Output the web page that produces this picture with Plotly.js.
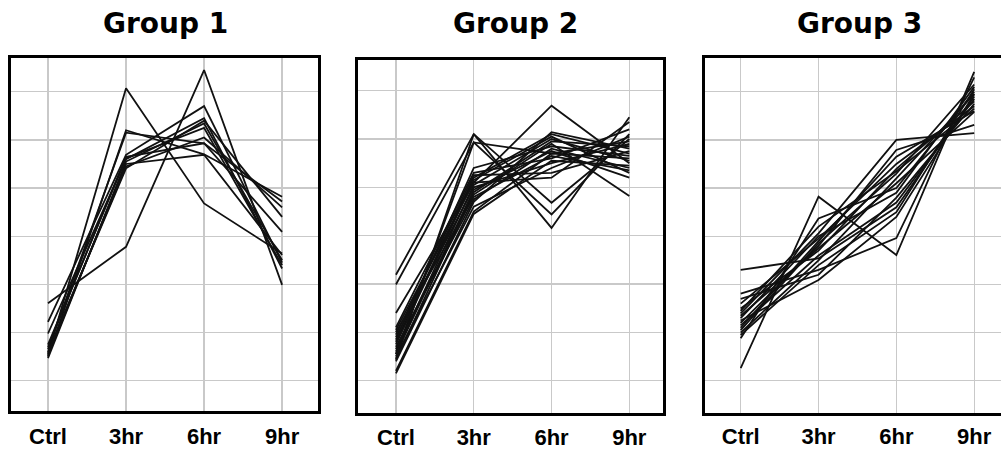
<!DOCTYPE html>
<html>
<head>
<meta charset="utf-8">
<script src="https://cdn.plot.ly/plotly-3.0.1.min.js"></script>
<style>
  html, body { margin: 0; padding: 0; background: #fff; overflow: hidden; }
  #chart { width: 1016px; height: 454px; }
</style>
</head>
<body>
<div id="chart"></div>
<script>
// ---- data ----
const timepoints = ['Ctrl', '3hr', '6hr', '9hr'];
const groupTitles = ['Group 1', 'Group 2', 'Group 3'];

// each row = one profile: values at Ctrl, 3hr, 6hr, 9hr
const group1 = [
  [1.55, 7.07, 4.68, 3.64],
  [2.61, 3.78, 7.45, 2.99],
  [1.50, 6.20, 5.70, 4.82],
  [1.65, 6.15, 5.93, 4.72],
  [2.22, 5.69, 6.70, 3.45],
  [1.98, 5.60, 6.45, 3.33],
  [1.47, 5.55, 6.34, 3.50],
  [1.60, 5.41, 6.40, 4.40],
  [1.70, 5.65, 5.93, 4.09],
  [1.52, 5.50, 5.69, 3.61],
  [1.75, 5.62, 6.25, 3.40],
  [1.58, 5.45, 6.05, 4.60]
];

const group2 = [
  [1.45, 6.10, 4.16, 6.45],
  [1.55, 5.93, 4.44, 6.10],
  [3.19, 6.10, 4.68, 6.00],
  [2.99, 5.93, 5.70, 5.95],
  [2.40, 5.10, 6.69, 5.50],
  [1.80, 5.20, 6.10, 5.70],
  [1.60, 5.05, 6.00, 5.55],
  [1.43, 4.90, 5.95, 5.85],
  [2.10, 5.30, 5.60, 6.20],
  [1.70, 4.75, 5.80, 5.40],
  [1.90, 5.00, 5.50, 5.90],
  [1.50, 4.60, 5.40, 6.05],
  [1.75, 5.15, 6.05, 5.30],
  [1.20, 4.50, 5.70, 5.60],
  [1.95, 5.25, 5.30, 5.75],
  [1.65, 4.85, 5.90, 4.82],
  [2.05, 5.10, 5.20, 6.35],
  [1.55, 4.95, 5.75, 5.20],
  [1.85, 5.40, 5.85, 5.65],
  [1.15, 4.45, 5.55, 5.45],
  [1.40, 4.70, 6.14, 5.80],
  [2.00, 4.80, 5.65, 5.35]
];

const group3 = [
  [1.26, 4.82, 3.61, 7.41],
  [3.30, 3.54, 4.60, 6.90],
  [1.88, 4.37, 5.00, 7.00],
  [2.81, 3.30, 3.96, 7.30],
  [2.40, 4.06, 6.00, 6.14],
  [2.20, 3.80, 5.79, 6.31],
  [2.10, 3.90, 5.65, 6.60],
  [2.50, 3.70, 5.40, 6.80],
  [2.00, 3.50, 5.20, 6.95],
  [2.30, 4.00, 4.90, 7.10],
  [2.15, 3.60, 4.70, 6.85],
  [2.60, 3.95, 5.50, 6.70],
  [1.95, 3.40, 4.50, 7.05],
  [2.35, 3.75, 5.10, 6.58],
  [2.70, 3.20, 4.80, 6.75],
  [2.05, 3.85, 5.30, 7.15],
  [2.25, 3.09, 4.40, 6.95],
  [2.45, 4.20, 5.35, 6.65]
];

const groups = [group1, group2, group3];

// ---- build figure ----
const W = 1016, H = 454;
const panels = [
  { x0: 11,    x1: 318,  y0: 58, y1: 411, xr: [-0.474, 3.46], yr: [0.371, 7.70], tx: 165.5 },
  { x0: 358,   x1: 663,  y0: 60, y1: 413, xr: [-0.488, 3.433], yr: [0.33, 7.635], tx: 515 },
  { x0: 704.5, x1: 1010, y0: 58, y1: 413, xr: [-0.465, 3.46], yr: [0.33, 7.70], tx: 859 }
];

const traces = [];
groups.forEach((g, gi) => {
  const sfx = gi === 0 ? '' : String(gi + 1);
  g.forEach(row => {
    traces.push({
      type: 'scatter', mode: 'lines',
      x: timepoints, y: row,
      xaxis: 'x' + sfx, yaxis: 'y' + sfx,
      line: { color: '#111', width: 1.8 },
      hoverinfo: 'skip', showlegend: false
    });
  });
});

const layout = {
  width: W, height: H,
  margin: { l: 0, r: 0, t: 0, b: 0 },
  paper_bgcolor: '#fff', plot_bgcolor: '#fff',
  showlegend: false,
  annotations: []
};

panels.forEach((p, i) => {
  const sfx = i === 0 ? '' : String(i + 1);
  layout['xaxis' + sfx] = {
    anchor: 'y' + sfx,
    domain: [p.x0 / W, p.x1 / W],
    type: 'category',
    categoryorder: 'array', categoryarray: timepoints,
    range: p.xr,
    showgrid: true, gridcolor: '#c9c9c9', gridwidth: 1.3,
    showline: true, mirror: true, linecolor: '#000', linewidth: 3,
    ticks: '', ticklabelstandoff: 4 - i,
    tickfont: { family: 'Liberation Sans, Arial, sans-serif', size: 22, color: '#000', weight: 'bold' },
    zeroline: false, automargin: false, fixedrange: true
  };
  layout['yaxis' + sfx] = {
    anchor: 'x' + sfx,
    domain: [(H - p.y1) / H, (H - p.y0) / H],
    range: p.yr,
    tick0: 0, dtick: 1,
    showgrid: true, gridcolor: '#c9c9c9', gridwidth: 1.3,
    showline: true, mirror: true, linecolor: '#000', linewidth: 3,
    ticks: '', showticklabels: false,
    zeroline: false, automargin: false, fixedrange: true
  };
  layout.annotations.push({
    text: groupTitles[i],
    xref: 'paper', yref: 'paper',
    x: p.tx / W, y: 1 - 24 / H,
    xanchor: 'center', yanchor: 'middle',
    showarrow: false,
    font: { family: 'DejaVu Sans, sans-serif', size: 28, color: '#000', weight: 'bold' }
  });
});

Plotly.newPlot('chart', traces, layout, { displayModeBar: false, staticPlot: true });
</script>
</body>
</html>
